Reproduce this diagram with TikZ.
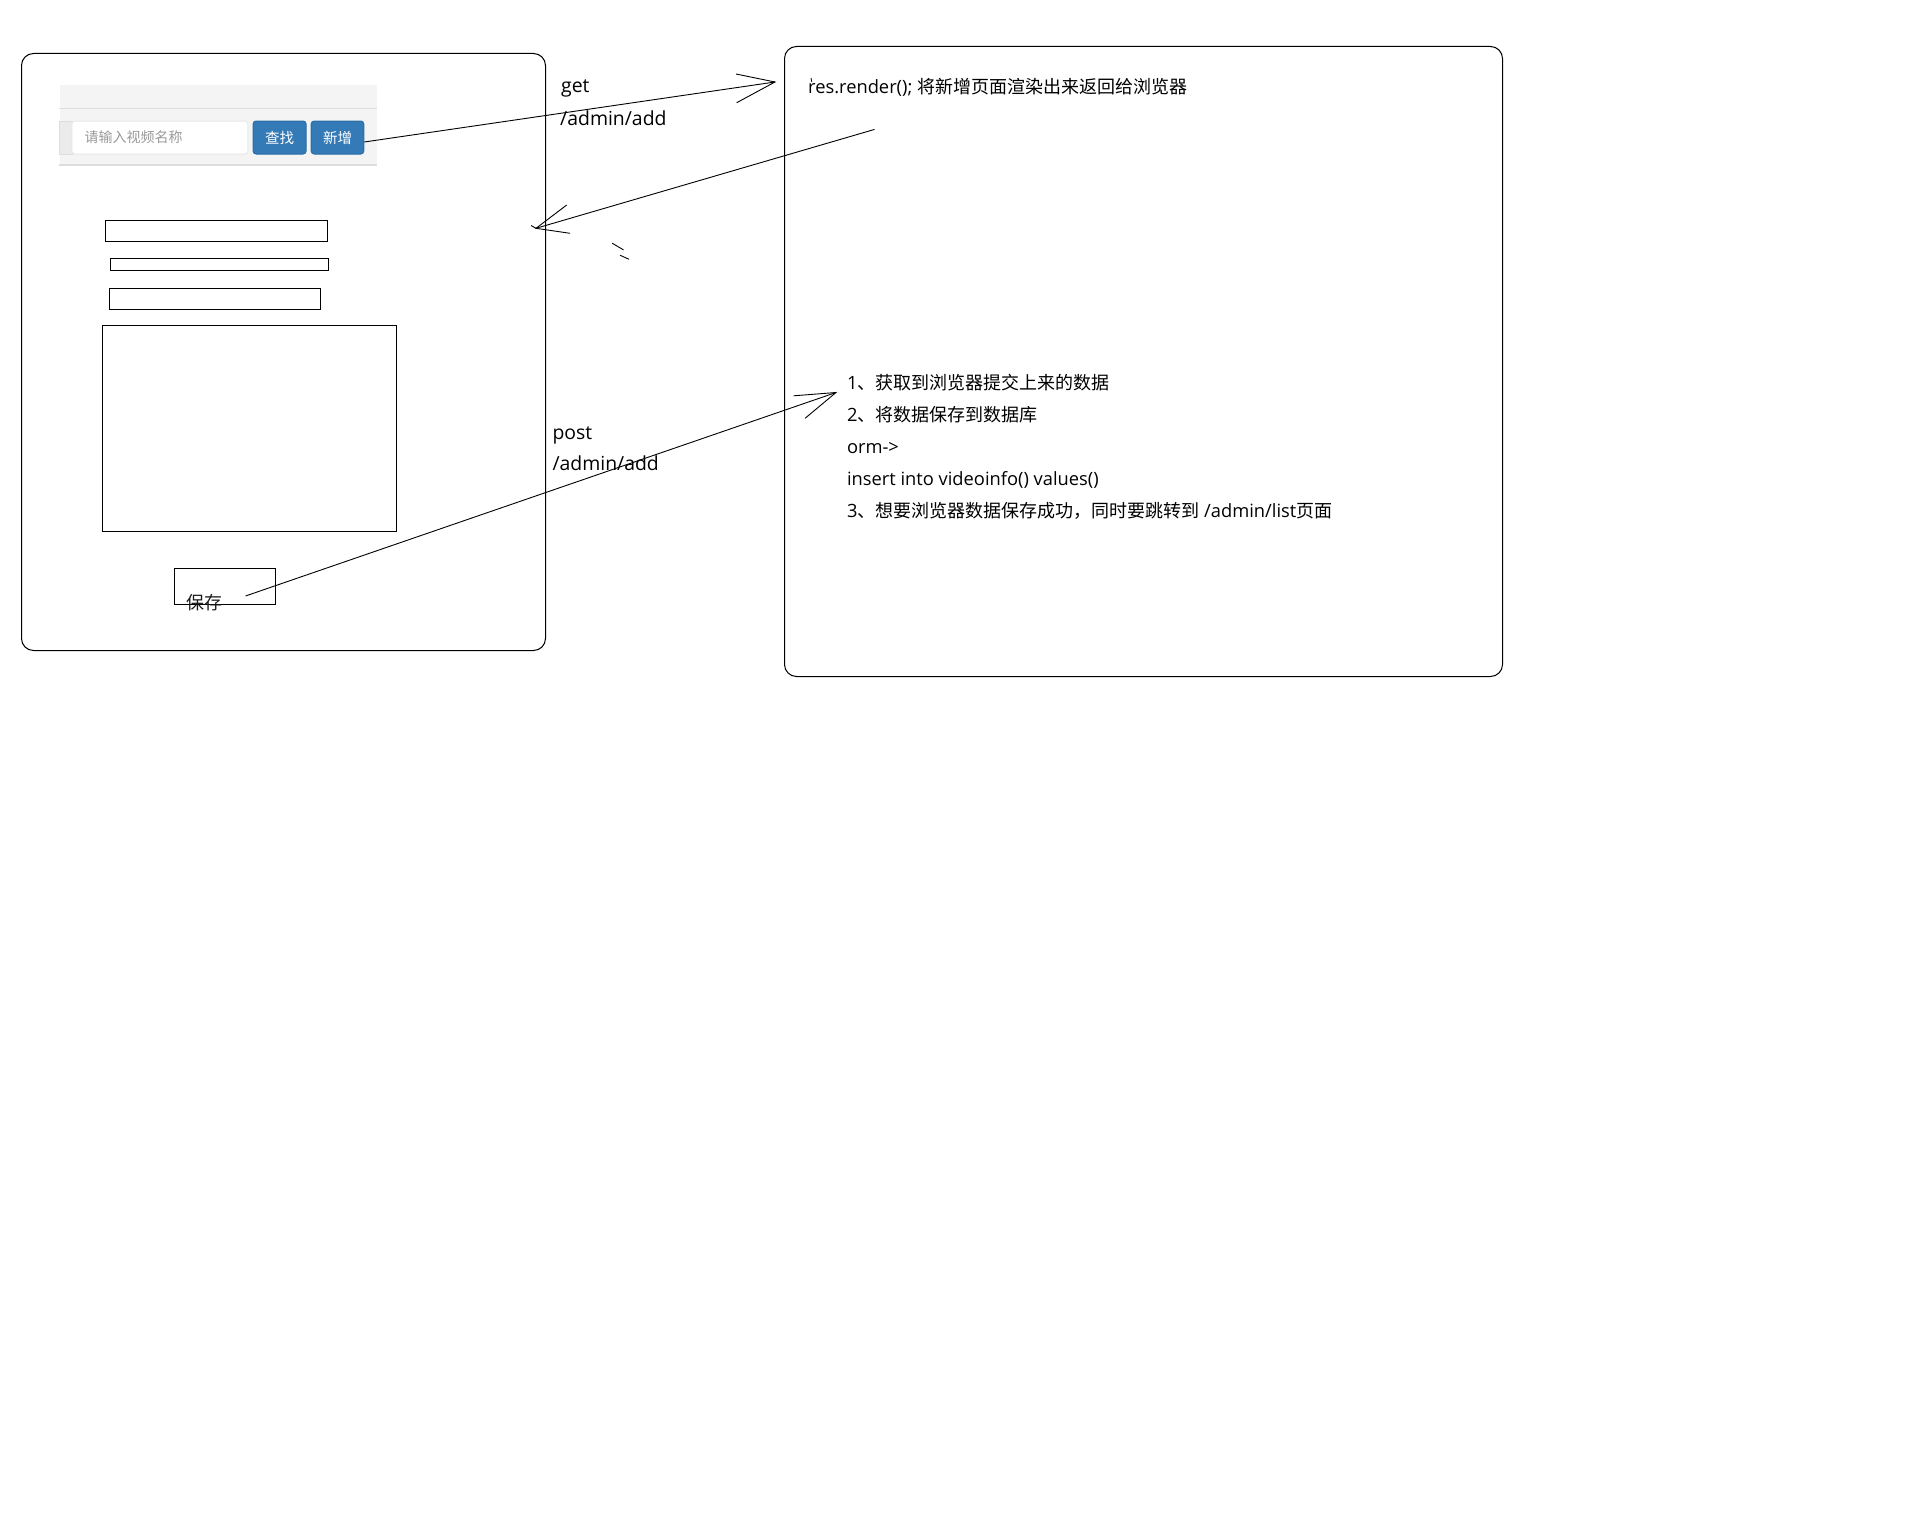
\documentclass[tikz,border=0pt]{standalone}
\usepackage{fontspec}
\setmainfont{Open Sans}
\newfontfamily\cjk{Noto Sans CJK SC}
\definecolor{btnblue}{HTML}{337AB7}
\definecolor{btnborder}{HTML}{2E6DA4}
\definecolor{barbg}{HTML}{F4F4F4}
\definecolor{barline}{HTML}{DDDDDD}
\definecolor{phgrey}{HTML}{999999}
\newcommand{\zh}[1]{{\cjk\fontsize{18}{20}\selectfont #1}}
\begin{document}
\begin{tikzpicture}[x=1pt,y=-1pt,line width=1pt,
  panel/.style={draw,rounded corners=12pt,inner sep=0pt,anchor=north west},
  field/.style={draw,inner sep=0pt,anchor=north west},
  btn/.style={fill=btnblue,draw=btnborder,rounded corners=3pt,inner sep=0pt,anchor=north west,minimum height=33pt,text=white,font=\cjk\fontsize{14.5}{16}\selectfont},
  txt/.style={inner sep=0pt,anchor=base west,font=\fontsize{18.3}{20}\selectfont},
  lbl/.style={inner sep=0pt,anchor=base west,font=\fontsize{19.4}{21}\selectfont},
  pen/.style={line width=0.9pt}]
\useasboundingbox[fill=white] (0,0) rectangle (1928,1520);

% panels
\node[panel,minimum width=524pt,minimum height=597pt] (left) at (21,53) {};
\node[panel,minimum width=718pt,minimum height=630pt] (right) at (784,46) {};

% toolbar
\node[fill=barbg,inner sep=0pt,anchor=north west,minimum width=317pt,minimum height=79.5pt] (bar) at (59,84.5) {};
\draw[barline] (bar.north west) ++(0,24.4) coordinate (s1) -- (s1 -| bar.east);
\draw[barline,line width=1.5pt] (bar.south west) -- (bar.south east);
\node[fill=barline!60,draw=barline,inner sep=0pt,anchor=north west,minimum width=13pt,minimum height=33pt] (addon) at (58.5,120.5) {};
\node[fill=white,draw=barline!80!black!30,rounded corners=3pt,inner sep=0pt,anchor=north west,minimum width=176pt,minimum height=33pt] (search) at (71.4,120.5) {};
\node[inner sep=0pt,anchor=base west,text=phgrey,font=\cjk\fontsize{14}{16}\selectfont] (ph) at (84.2,142.2) {请输入视频名称};
\node[btn,minimum width=53pt] (find) at (252.6,120.5) {查找};
\node[btn,minimum width=52.6pt] (add) at (310.7,120.5) {新增};

% form fields
\node[field,minimum width=221.4pt,minimum height=21.9pt] (f1) at (105.1,219.5) {};
\node[field,minimum width=217.9pt,minimum height=12pt] (f2) at (109.7,258.4) {};
\node[field,minimum width=211.7pt,minimum height=20.9pt] (f3) at (108.7,288.3) {};
\node[field,minimum width=294.9pt,minimum height=205.7pt] (f4) at (101.5,325.3) {};
\node[field,minimum width=101pt,minimum height=36pt] (save) at (173.5,568.2) {};
\node[inner sep=0pt,anchor=base west,font=\cjk\fontsize{18}{20}\selectfont,text=black!90] (savet) at (186,609) {保存};

% labels
\node[lbl] (get) at (560.7,92.8) {get};
\node[lbl] (getp) at (559.7,125) {/admin/add};
\node[lbl] (post) at (552,439.5) {post};
\node[lbl] (postp) at (552,470) {/admin/add};

% right panel text
\node[txt] (res) at (807.7,93.5) {res.render(); \zh{将新增页面渲染出来返回给浏览器}};
\node[txt] (l1) at (846.5,389.5) {1\zh{、获取到浏览器提交上来的数据}};
\node[txt] (l2) at (846.5,421.5) {2\zh{、将数据保存到数据库}};
\node[txt] (l3) at (846.5,453.5) {orm->};
\node[txt] (l4) at (846.5,485.5) {insert into videoinfo() values()};
\node[txt] (l5) at (846.5,517.5) {3\zh{、想要浏览器数据保存成功，同时要跳转到} /admin/list\zh{页面}};

% get arrow
\coordinate (gT) at (775,82);
\coordinate (gH1) at (736,74);
\coordinate (gH2) at (736.7,102.7);
\draw[pen] (add.east) ++(0,4.5) coordinate (gS) -- (gT);
\draw[pen] (gH1) -- (gT) -- (gH2);

% return arrow
\coordinate (rS) at (874.6,129.4);
\coordinate (rT) at (536,228.3);
\coordinate (rH1) at (566.7,205);
\coordinate (rH2) at (570,233.3);
\coordinate (rX) at (531,225.5);
\draw[pen] (rS) -- (rT);
\draw[pen] (rH1) -- (rT) -- (rH2);
\draw[pen] (rX) -- (rT);

% post arrow
\coordinate (pS) at (245.5,596);
\coordinate (pT) at (836,392.5);
\coordinate (pH1) at (793.6,395.8);
\coordinate (pH2) at (805.2,418.2);
\draw[pen] (pS) -- (pT);
\draw[pen] (pH1) -- (pT) -- (pH2);

% stray pen marks
\coordinate (m1a) at (612.2,243.2); \coordinate (m1b) at (623.5,249.9);
\coordinate (m2a) at (620,255.2); \coordinate (m2b) at (629,259.3);
\draw[pen] (m1a) -- (m1b);
\draw[pen] (m2a) -- (m2b);
\coordinate (t1) at (811,78); \coordinate (t2) at (811.8,82);
\draw[line width=0.8pt] (t1) -- (t2);
\end{tikzpicture}
\end{document}
